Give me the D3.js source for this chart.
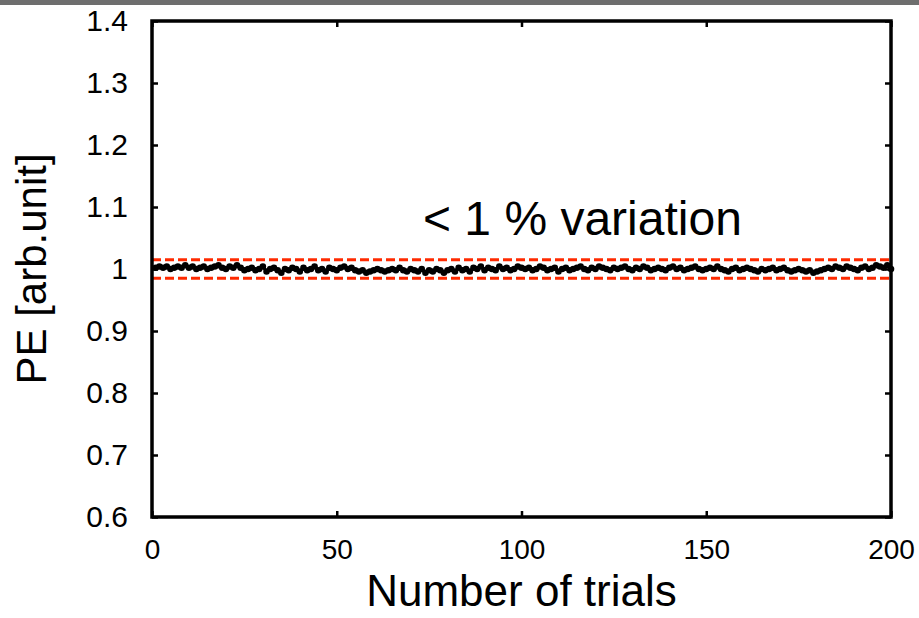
<!DOCTYPE html>
<html>
<head>
<meta charset="utf-8">
<script src="https://cdn.jsdelivr.net/npm/d3@7"></script>
<style>
  body { margin: 0; background: #fff; }
  svg { display: block; font-family: "Liberation Sans", Arial, sans-serif; }
</style>
</head>
<body>
<svg id="chart" width="919" height="618"></svg>
<script>
// PE values per trial, as offsets from 1 in units of 0.002
const peOffsets = [
  1,2,1,2,0,1,2,1,3,1,2,0,1,2,0,1,2,3,1,0,2,1,3,1,-1,
  0,1,-1,0,2,-2,0,1,-1,-3,0,-1,1,0,-2,1,-1,0,2,-1,0,-2,1,0,-1,
  1,2,0,1,-1,-2,-1,-3,-2,-1,0,-1,-2,-1,0,-1,1,-1,-2,0,-1,-2,0,-3,-1,
  -2,0,-1,-3,-1,0,-2,1,-1,0,-2,1,0,2,-1,1,0,-1,2,0,1,-1,0,2,1,
  0,1,-1,0,2,1,-1,0,1,-2,0,1,-1,0,1,2,0,-1,1,0,2,1,0,-1,1,
  0,1,2,0,-1,1,0,2,1,-1,0,1,0,-1,1,2,0,1,-1,0,1,2,0,-1,0,
  1,0,2,0,-1,-2,0,1,-1,0,1,0,-1,-2,0,-1,0,1,-1,0,1,-1,-2,-1,0,
  -1,-2,-1,-3,-2,-1,0,1,0,2,1,0,2,1,0,-1,1,2,0,1,3,2,1,3,0
];
const trials = peOffsets.map((d, i) => i + 1);
const peValues = peOffsets.map(d => 1 + d * 0.002);
const bandLimits = [1.015, 0.985];
const xTicks = [0, 50, 100, 150, 200];
const yTicks = [0.6, 0.7, 0.8, 0.9, 1, 1.1, 1.2, 1.3, 1.4];

const svg = d3.select("#chart");
const margin = { top: 21, right: 28, bottom: 101, left: 152 };
const width = 919, height = 618;

// gray rule at the very top
svg.append("rect").attr("x", 0).attr("y", 0).attr("width", width).attr("height", 5).attr("fill", "#6e6e6e");

const x = d3.scaleLinear().domain([0, 200]).range([margin.left, width - margin.right]);
const y = d3.scaleLinear().domain([0.6, 1.4]).range([height - margin.bottom, margin.top]);

// red dashed band
svg.selectAll(".band")
  .data(bandLimits)
  .enter()
  .append("line")
  .attr("x1", x(0)).attr("x2", x(200))
  .attr("y1", d => y(d)).attr("y2", d => y(d))
  .attr("stroke", "#ff2a00")
  .attr("stroke-width", 3)
  .attr("stroke-dasharray", "9,4");

// data line + dots
const pts = trials.map((t, i) => [t, peValues[i]]);
svg.append("path")
  .datum(pts)
  .attr("fill", "none")
  .attr("stroke", "#000")
  .attr("stroke-width", 3)
  .attr("d", d3.line().x(d => x(d[0])).y(d => y(d[1])));
svg.selectAll(".pt")
  .data(pts)
  .enter()
  .append("circle")
  .attr("cx", d => x(d[0]))
  .attr("cy", d => y(d[1]))
  .attr("r", 3.3)
  .attr("fill", "#000");

// axes: ticks inward, mirrored
const tickLen = 6;
svg.append("g")
  .attr("transform", `translate(0,${y(0.6)})`)
  .call(d3.axisBottom(x).tickValues(xTicks).tickSize(-tickLen).tickPadding(22).tickFormat(d3.format("d")))
  .call(g => g.select(".domain").remove())
  .call(g => g.selectAll("line").attr("stroke-width", 2.5))
  .call(g => g.selectAll("text").style("font-size", "28px").attr("fill", "#000"));
svg.append("g")
  .attr("transform", `translate(0,${y(1.4)})`)
  .call(d3.axisTop(x).tickValues(xTicks).tickSize(-tickLen).tickFormat(""))
  .call(g => g.select(".domain").remove())
  .call(g => g.selectAll("line").attr("stroke-width", 2.5));
svg.append("g")
  .attr("transform", `translate(${x(0)},0)`)
  .call(d3.axisLeft(y).tickValues(yTicks).tickSize(-tickLen).tickPadding(24).tickFormat(d => d === 1 ? "1" : d3.format(".1f")(d)))
  .call(g => g.select(".domain").remove())
  .call(g => g.selectAll("line").attr("stroke-width", 2.5))
  .call(g => g.selectAll("text").style("font-size", "30px").attr("fill", "#000"));
svg.append("g")
  .attr("transform", `translate(${x(200)},0)`)
  .call(d3.axisRight(y).tickValues(yTicks).tickSize(-tickLen).tickFormat(""))
  .call(g => g.select(".domain").remove())
  .call(g => g.selectAll("line").attr("stroke-width", 2.5));

// frame
svg.append("rect")
  .attr("x", x(0)).attr("y", y(1.4))
  .attr("width", x(200) - x(0)).attr("height", y(0.6) - y(1.4))
  .attr("fill", "none").attr("stroke", "#000").attr("stroke-width", 3.5);

// labels
svg.append("text")
  .attr("x", (x(0) + x(200)) / 2).attr("y", 606)
  .attr("text-anchor", "middle").style("font-size", "44px")
  .text("Number of trials");
svg.append("text")
  .attr("transform", `translate(46,${y(1)}) rotate(-90)`)
  .attr("text-anchor", "middle").style("font-size", "42px")
  .text("PE [arb.unit]");
svg.append("text")
  .attr("x", 423).attr("y", 235)
  .style("font-size", "48px")
  .text("< 1 % variation");
</script>
</body>
</html>
